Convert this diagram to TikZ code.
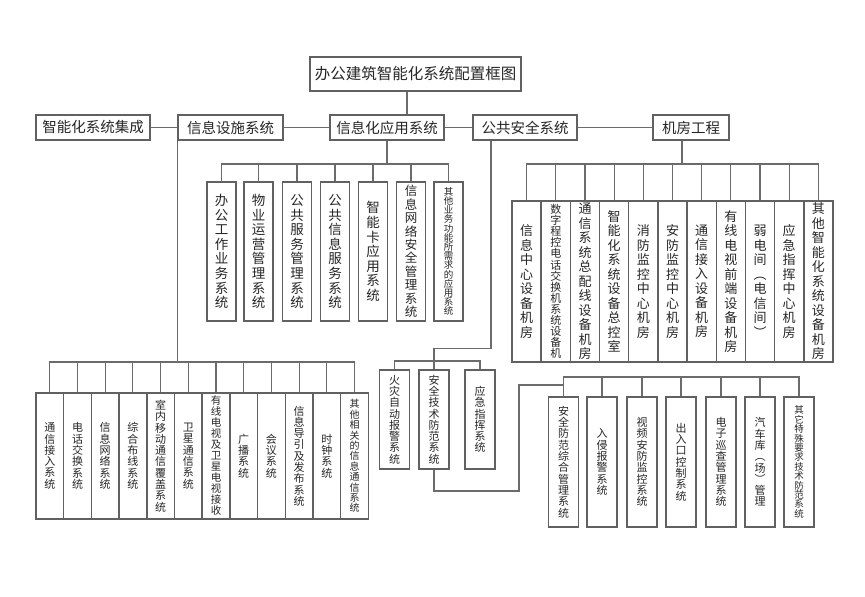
\documentclass[tikz,border=0pt]{standalone}
\usepackage{fontspec}
\setmainfont{Noto Sans CJK SC}
\usetikzlibrary{calc}
\newcommand\fsz[2]{\fontsize{#1}{#2}\selectfont}
\begin{document}
\begin{tikzpicture}[x=1pt,y=-1pt,
 box/.style={draw=black!62,line width=1.5pt,fill=white,inner sep=0pt,text=black!85},
 hb/.style={box,minimum height=25,font=\fsz{14.5}{16}},
 vb/.style={box,align=center},
 ab/.style={vb,minimum width=29,minimum height=139,font=\fsz{13.5}{14.6}},
 mb/.style={vb,minimum width=29.2,minimum height=161,font=\fsz{13}{14.5}},
 bb/.style={vb,minimum width=27.7,minimum height=126,font=\fsz{11}{11.3}},
 sb/.style={vb,minimum width=30,minimum height=99,font=\fsz{11}{11.25}},
 rb/.style={vb,minimum width=30,minimum height=130,font=\fsz{11}{11.3}},
 link/.style={draw=black!58,line width=1.1pt},
]
\useasboundingbox[fill=white] (0,0) rectangle (865,597);

% top and level 2
\node[box,minimum width=211,minimum height=34,font=\fsz{15.5}{17}] (top) at (415.5,74) {办公建筑智能化系统配置框图};
\node[hb,minimum width=114] (sys1) at (93,127.5) {智能化系统集成};
\node[hb,minimum width=105] (sys2) at (230.5,127.5) {信息设施系统};
\node[hb,minimum width=114] (sys3) at (387,127.5) {信息化应用系统};
\node[hb,minimum width=104] (sys4) at (525,127.5) {公共安全系统};
\node[hb,minimum width=76] (sys5) at (691,127.5) {机房工程};

% application systems
\node[ab] (a1) at (221.5,251.5) {办\\公\\工\\作\\业\\务\\系\\统};
\node[ab] (a2) at (258.5,251.5) {物\\业\\运\\营\\管\\理\\系\\统};
\node[ab] (a3) at (297,251.5) {公\\共\\服\\务\\管\\理\\系\\统};
\node[ab] (a4) at (335,251.5) {公\\共\\信\\息\\服\\务\\系\\统};
\node[ab] (a5) at (373,251.5) {智\\能\\卡\\应\\用\\系\\统};
\node[ab,font=\fsz{12.5}{13.4}] (a6) at (411,251.5) {信\\息\\网\\络\\安\\全\\管\\理\\系\\统};
\node[ab,font=\fsz{9.5}{9.2}] (a7) at (448.5,251.5) {其\\他\\业\\务\\功\\能\\所\\需\\求\\的\\应\\用\\系\\统};

% machine rooms
\node[mb] (m1) at (526.6,281.5) {信\\息\\中\\心\\设\\备\\机\\房};
\node[mb,font=\fsz{11}{11.1}] (m2) at (555.8,281.5) {数\\字\\程\\控\\电\\话\\交\\换\\机\\系\\统\\设\\备\\机};
\node[mb] (m3) at (585,281.5) {通\\信\\系\\统\\总\\配\\线\\设\\备\\机\\房};
\node[mb] (m4) at (614.1,281.5) {智\\能\\化\\系\\统\\设\\备\\总\\控\\室};
\node[mb] (m5) at (643.3,281.5) {消\\防\\监\\控\\中\\心\\机\\房};
\node[mb] (m6) at (672.5,281.5) {安\\防\\监\\控\\中\\心\\机\\房};
\node[mb] (m7) at (701.7,281.5) {通\\信\\接\\入\\设\\备\\机\\房};
\node[mb] (m8) at (730.9,281.5) {有\\线\\电\\视\\前\\端\\设\\备\\机\\房};
\node[mb] (m9) at (760,281.5) {弱\\电\\间\\︵\\电\\信\\间\\︶};
\node[mb] (m10) at (789.2,281.5) {应\\急\\指\\挥\\中\\心\\机\\房};
\node[mb] (m11) at (818.4,281.5) {其\\他\\智\\能\\化\\系\\统\\设\\备\\机\\房};

% information infrastructure
\node[bb] (b1) at (49.8,456) {通\\信\\接\\入\\系\\统};
\node[bb] (b2) at (77.5,456) {电\\话\\交\\换\\系\\统};
\node[bb] (b3) at (105.2,456) {信\\息\\网\\络\\系\\统};
\node[bb] (b4) at (132.9,456) {综\\合\\布\\线\\系\\统};
\node[bb] (b5) at (160.6,456) {室\\内\\移\\动\\通\\信\\覆\\盖\\系\\统};
\node[bb] (b6) at (188.3,456) {卫\\星\\通\\信\\系\\统};
\node[bb,font=\fsz{10.5}{11}] (b7) at (216,456) {有\\线\\电\\视\\及\\卫\\星\\电\\视\\接\\收};
\node[bb] (b8) at (243.7,456) {广\\播\\系\\统};
\node[bb] (b9) at (271.4,456) {会\\议\\系\\统};
\node[bb] (b10) at (299.1,456) {信\\息\\导\\引\\及\\发\\布\\系\\统};
\node[bb] (b11) at (326.8,456) {时\\钟\\系\\统};
\node[bb,font=\fsz{10}{10.4}] (b12) at (354.5,456) {其\\他\\相\\关\\的\\信\\息\\通\\信\\系\\统};

% public safety
\node[sb] (s1) at (394.5,419.5) {火\\灾\\自\\动\\报\\警\\系\\统};
\node[sb] (s2) at (434,419.5) {安\\全\\技\\术\\防\\范\\系\\统};
\node[sb] (s3) at (480,419.5) {应\\急\\指\\挥\\系\\统};

% security technology
\node[rb] (r1) at (563.5,462) {安\\全\\防\\范\\综\\合\\管\\理\\系\\统};
\node[rb] (r2) at (602,462) {入\\侵\\报\\警\\系\\统};
\node[rb] (r3) at (642,462) {视\\频\\安\\防\\监\\控\\系\\统};
\node[rb] (r4) at (681,462) {出\\入\\口\\控\\制\\系\\统};
\node[rb] (r5) at (721,462) {电\\子\\巡\\查\\管\\理\\系\\统};
\node[rb] (r6) at (760,462) {汽\\车\\库\\︵\\场\\︶\\管\\理};
\node[rb,font=\fsz{9.5}{9.4}] (r7) at (799,462) {其\\它\\特\\殊\\要\\求\\技\\术\\防\\范\\系\\统};

% bus coordinates
\coordinate (busA) at (0,164);
\coordinate (busM) at (0,164);
\coordinate (busB) at (0,362);
\coordinate (busS) at (0,361);
\coordinate (busR) at (0,377);
\coordinate (k1) at ($(s2.north)+(0,-21)$);
\coordinate (k2) at (519,491);
\coordinate (k3) at (519,385);

% connectors
\draw[link] ([xshift=-8.5pt]top.south) -- ([xshift=-8.5pt]top.south |- sys3.north);
\draw[link] (sys1.east) -- (sys2.west) (sys2.east) -- (sys3.west)
  (sys3.east) -- (sys4.west) (sys4.east) -- (sys5.west);

\draw[link] (sys3.south) -- (sys3.south |- busA);
\draw[link] (a1.north) |- (busA -| a7.north) -- (a7.north);
\foreach \i in {2,...,6} \draw[link] (a\i.north) -- (a\i.north |- busA);

\draw[link] ([xshift=-9pt]sys5.south) -- ([xshift=-9pt]sys5.south |- busM);
\draw[link] (m1.north) |- (busM -| m11.north) -- (m11.north);
\foreach \i in {2,...,10} \draw[link] (m\i.north) -- (m\i.north |- busM);

\draw[link] (sys2.south west) -- (sys2.south west |- busB);
\draw[link] (b1.north) |- (busB -| b12.north) -- (b12.north);
\foreach \i in {2,...,11} \draw[link] (b\i.north) -- (b\i.north |- busB);

\draw[link] ([xshift=-34pt]sys4.south) |- (k1) -- (s2.north);
\draw[link] (s1.north) |- (busS -| s3.north) -- (s3.north);

\draw[link] (s2.south) |- (k2) -- (k3) -- (k3 -| r1.north);
\draw[link] (r1.north) |- (busR -| r7.north) -- (r7.north);
\foreach \i in {2,...,6} \draw[link] (r\i.north) -- (r\i.north |- busR);
\end{tikzpicture}
\end{document}
